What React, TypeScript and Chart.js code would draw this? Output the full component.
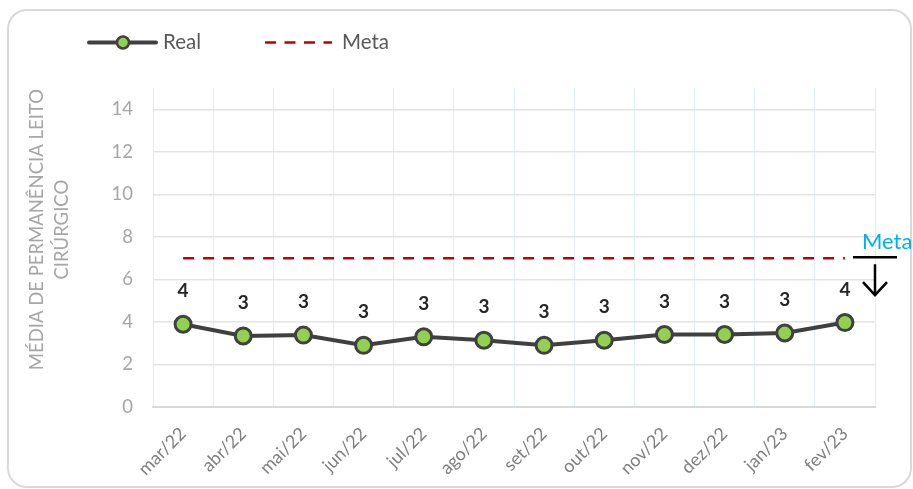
import React, { useEffect, useRef } from 'react';
import { Chart, registerables } from 'chart.js';

Chart.register(...registerables);

const LABELS = ['mar/22', 'abr/22', 'mai/22', 'jun/22', 'jul/22', 'ago/22', 'set/22', 'out/22', 'nov/22', 'dez/22', 'jan/23', 'fev/23'];
const REAL = [3.89, 3.34, 3.38, 2.9, 3.3, 3.14, 2.9, 3.14, 3.41, 3.41, 3.48, 3.97];
const META = [7, 7, 7, 7, 7, 7, 7, 7, 7, 7, 7, 7];
const Y_TITLE = ['MÉDIA DE PERMANÊNCIA LEITO', 'CIRÚRGICO'];
const LEGEND_REAL = 'Real';
const LEGEND_META = 'Meta';
const META_NOTE = 'Meta';
const Y_MIN = 0;
const Y_MAX = 15;
const Y_STEP = 2;

const FONT = 'Lato, "Open Sans", sans-serif';

const dataLabels = {
  id: 'dataLabels',
  afterDatasetsDraw(chart: any) {
    const meta = chart.getDatasetMeta(0);
    const ctx = chart.ctx;
    ctx.save();
    ctx.font = `bold 19px ${FONT}`;
    ctx.fillStyle = '#262626';
    ctx.textAlign = 'center';
    ctx.textBaseline = 'middle';
    meta.data.forEach((el: any, i: number) => {
      ctx.fillText(String(Math.round(REAL[i])), el.x, el.y - 33);
    });
    ctx.restore();
  },
};

const yTitle = {
  id: 'yTitle',
  afterDraw(chart: any) {
    const { ctx, chartArea } = chart;
    const cy = chartArea.top + (chartArea.bottom - chartArea.top) * 0.444;
    ctx.save();
    ctx.font = `18.5px ${FONT}`;
    ctx.fillStyle = '#a6a6a6';
    ctx.textAlign = 'center';
    ctx.textBaseline = 'middle';
    [37, 62.5].forEach((x, i) => {
      ctx.save();
      ctx.translate(x, cy);
      ctx.rotate(-Math.PI / 2);
      ctx.fillText(Y_TITLE[i], 0, 0);
      ctx.restore();
    });
    ctx.restore();
  },
};

const metaNote = {
  id: 'metaNote',
  afterDraw(chart: any) {
    const { ctx, chartArea, scales } = chart;
    const y = scales.y.getPixelForValue(META[META.length - 1]);
    const x = chartArea.right;
    ctx.save();
    ctx.strokeStyle = '#000000';
    ctx.lineWidth = 2.5;
    ctx.beginPath();
    ctx.moveTo(x - 22, y - 1);
    ctx.lineTo(x + 22, y - 1);
    ctx.stroke();
    ctx.beginPath();
    ctx.moveTo(x, y + 6);
    ctx.lineTo(x, y + 37);
    ctx.moveTo(x - 12, y + 24);
    ctx.lineTo(x, y + 37);
    ctx.lineTo(x + 12, y + 24);
    ctx.stroke();
    ctx.font = `22px ${FONT}`;
    ctx.fillStyle = '#00b0f0';
    ctx.textAlign = 'left';
    ctx.textBaseline = 'alphabetic';
    ctx.fillText(META_NOTE, x - 13, y - 9);
    ctx.restore();
  },
};

export default function App() {
  const ref = useRef<HTMLCanvasElement | null>(null);

  useEffect(() => {
    if (!ref.current) return;
    const chart = new Chart(ref.current, {
      type: 'line',
      data: {
        labels: LABELS,
        datasets: [
          {
            label: LEGEND_REAL,
            data: REAL,
            borderColor: '#404040',
            borderWidth: 4,
            pointRadius: 8,
            pointBorderWidth: 3,
            pointBackgroundColor: '#92d050',
            pointBorderColor: '#404040',
            tension: 0,
          },
          {
            label: LEGEND_META,
            data: META,
            borderColor: '#c00000',
            borderWidth: 2.5,
            borderDash: [11, 9],
            pointRadius: 0,
            tension: 0,
          },
        ],
      },
      options: {
        responsive: false,
        animation: false,
        devicePixelRatio: 1,
        layout: { padding: { top: 88, right: 38, left: 0, bottom: 0 } },
        plugins: {
          legend: { display: false },
          tooltip: { enabled: false },
        },
        scales: {
          x: {
            offset: true,
            grid: { offset: true, color: '#ddeef7', lineWidth: 1, drawTicks: false },
            border: { display: true, color: '#d9d9d9', width: 2 },
            ticks: {
              color: '#7f7f7f',
              font: { family: FONT, size: 18 },
              maxRotation: 45,
              minRotation: 45,
              padding: 16,
              autoSkip: false,
            },
            afterFit(scale: any) {
              scale.height = 82;
            },
          },
          y: {
            min: Y_MIN,
            max: Y_MAX,
            grid: { color: '#e3e3e3', lineWidth: 1.5, drawTicks: false },
            border: { display: false },
            ticks: {
              stepSize: Y_STEP,
              includeBounds: false,
              color: '#a6a6a6',
              font: { family: FONT, size: 18.5 },
              padding: 20,
            },
            afterFit(scale: any) {
              scale.width = 153;
            },
          },
        },
      },
      plugins: [dataLabels, yTitle, metaNote],
    } as any);
    return () => chart.destroy();
  }, []);

  const textStyle: React.CSSProperties = {
    position: 'absolute',
    top: 42,
    transform: 'translateY(-55%)',
    fontFamily: FONT,
    fontSize: 20.5,
    lineHeight: 1,
    color: '#595959',
    whiteSpace: 'nowrap',
  };

  return (
    <div style={{ position: 'fixed', left: 0, top: 0, width: 913, height: 489, background: '#ffffff', overflow: 'hidden' }}>
      <div
        style={{
          position: 'absolute',
          left: 7,
          top: 9,
          width: 905,
          height: 479,
          boxSizing: 'border-box',
          border: '2px solid #d9d9d9',
          borderRadius: 20,
          background: '#ffffff',
        }}
      />
      <canvas ref={ref} width={913} height={489} style={{ position: 'absolute', left: 0, top: 0, width: 913, height: 489 }} />
      <svg width={913} height={489} style={{ position: 'absolute', left: 0, top: 0, pointerEvents: 'none' }}>
        <line x1={89} y1={42.5} x2={156} y2={42.5} stroke="#404040" strokeWidth={4} strokeLinecap="round" />
        <circle cx={123} cy={42.5} r={6} fill="#92d050" stroke="#404040" strokeWidth={2.5} />
        <line x1={265} y1={42.5} x2={332} y2={42.5} stroke="#c00000" strokeWidth={2.5} strokeDasharray="11 8.5" />
      </svg>
      <span style={{ ...textStyle, left: 163 }}>{LEGEND_REAL}</span>
      <span style={{ ...textStyle, left: 342 }}>{LEGEND_META}</span>
    </div>
  );
}
